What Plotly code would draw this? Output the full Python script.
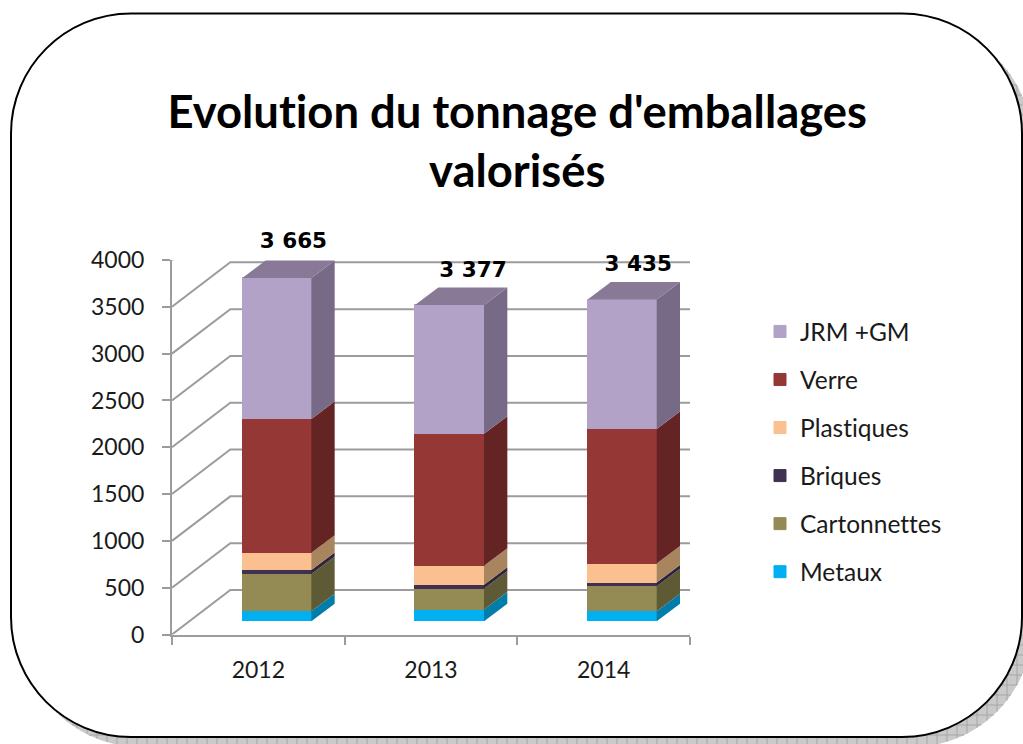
import math
import plotly.graph_objects as go

# ---------- data ----------
years = ["2012", "2013", "2014"]
metaux = [107, 125, 107]
cartonnettes = [396, 225, 267]
briques = [43, 40, 40]
plastiques = [185, 203, 203]
verre = [1430, 1408, 1436]
jrm_gm = [1504, 1376, 1382]
total_labels = ["3 665", "3 377", "3 435"]
y_ticks = [0, 500, 1000, 1500, 2000, 2500, 3000, 3500, 4000]

series_names = ["Metaux", "Cartonnettes", "Briques", "Plastiques", "Verre", "JRM +GM"]
series_values = [metaux, cartonnettes, briques, plastiques, verre, jrm_gm]
front_colors = ["#00B0F0", "#948A54", "#403152", "#FAC090", "#953735", "#B3A2C7"]
side_colors = ["#007DA9", "#5F5A36", "#2E2339", "#A8855F", "#642423", "#776A87"]
top_color = "#887A96"

# ---------- page geometry (pixels) ----------
W, H = 1023, 744
FRONT_L, FRONT_R, FRONT_B, FRONT_T = 172, 690, 634.5, 260
BAR_SHIFT_X, BAR_SHIFT_Y = 18.5, 13.3
PX_X = (FRONT_R - FRONT_L) / 3
PX_Y = (FRONT_B - FRONT_T) / 4000
WALL_DX, WALL_DY = 58.3 / PX_X, 44.5 / PX_Y
BAR_W = 0.40
DEPTH_X, DEPTH_Y = 23.3 / PX_X, 17.5 / PX_Y
Y2_MAX = 4500
GRID = "#9C9C9C"
FONT = "Lato"
LABEL_FONT = "DejaVu Sans"
label_dx = [0.096, 0.136, 0.093]
label_dy = [381, 355, 358]


def px(x):
    return x / W


def py(y):
    return 1 - y / H


def rounded(x0, y0, x1, y1, r):
    k = 0.5523 * r
    pts = [
        f"M{px(x0 + r)},{py(y0)}", f"L{px(x1 - r)},{py(y0)}",
        f"C{px(x1 - r + k)},{py(y0)} {px(x1)},{py(y0 + r - k)} {px(x1)},{py(y0 + r)}",
        f"L{px(x1)},{py(y1 - r)}",
        f"C{px(x1)},{py(y1 - r + k)} {px(x1 - r + k)},{py(y1)} {px(x1 - r)},{py(y1)}",
        f"L{px(x0 + r)},{py(y1)}",
        f"C{px(x0 + r - k)},{py(y1)} {px(x0)},{py(y1 - r + k)} {px(x0)},{py(y1 - r)}",
        f"L{px(x0)},{py(y0 + r)}",
        f"C{px(x0)},{py(y0 + r - k)} {px(x0 + r - k)},{py(y0)} {px(x0 + r)},{py(y0)}", "Z",
    ]
    return " ".join(pts)


def chord(t, a0, a1, r):
    """Extent across a rounded box at position t along the other direction."""
    off = 0.0
    if t < a0 + r:
        off = r - math.sqrt(max(r * r - (a0 + r - t) ** 2, 0))
    elif t > a1 - r:
        off = r - math.sqrt(max(r * r - (t - a1 + r) ** 2, 0))
    return off


BOX = (11, 13.5, 1022, 737)
RAD = 120
SHD = (BOX[0] + 10, BOX[1] + 10, BOX[2] + 10, BOX[3] + 10)

hatch = []
for gx in range(27, SHD[2], 10):
    o = chord(gx, SHD[0], SHD[2], RAD)
    hatch.append(f"M{px(gx)},{py(SHD[1] + o)} L{px(gx)},{py(SHD[3] - o)}")
for gy in range(35, SHD[3], 10):
    o = chord(gy, SHD[1], SHD[3], RAD)
    hatch.append(f"M{px(SHD[0] + o)},{py(gy)} L{px(SHD[2] - o)},{py(gy)}")

shapes = [
    dict(type="path", xref="paper", yref="paper", layer="below",
         path=rounded(*SHD, RAD), fillcolor="#CACACA", line=dict(width=0)),
    dict(type="path", xref="paper", yref="paper", layer="below",
         path=" ".join(hatch), line=dict(color="#A6A6A6", width=1)),
    dict(type="path", xref="paper", yref="paper", layer="below",
         path=rounded(*BOX, RAD), fillcolor="#FFFFFF", line=dict(color="#000000", width=2)),
]

fig = go.Figure()

# ---------- chart walls and floor, on the front-plane axes ----------
wx, wy = [], []
x_l, x_r = -0.5, 2.5
for v in y_ticks:
    wx += [x_l, x_l + WALL_DX, x_r + WALL_DX, None]
    wy += [v, v + WALL_DY, v + WALL_DY, None]
wx += [x_r, x_r + WALL_DX, None]
wy += [0, WALL_DY, None]
fig.add_trace(go.Scatter(x=wx, y=wy, mode="lines", line=dict(color=GRID, width=2),
                         cliponaxis=False, showlegend=False, hoverinfo="skip",
                         xaxis="x", yaxis="y"))

# ---------- stacked bars ----------
idx = [0, 1, 2]
for rank, (name, vals, col) in enumerate(zip(series_names, series_values, front_colors)):
    fig.add_trace(go.Bar(x=idx, y=vals, name=name, width=BAR_W, legendgroup=name,
                         legendrank=1000 - rank,
                         marker=dict(color=col, line=dict(color=col, width=1)),
                         xaxis="x2", yaxis="y2", cliponaxis=False))

# ---------- side and top faces of the bars ----------
cum = [0, 0, 0]
for name, vals, col in zip(series_names, series_values, side_colors):
    sx, sy = [], []
    for i in idx:
        xr = i + BAR_W / 2
        a, b = cum[i], cum[i] + vals[i]
        sx += [xr, xr + DEPTH_X, xr + DEPTH_X, xr, xr, None]
        sy += [a, a + DEPTH_Y, b + DEPTH_Y, b, a, None]
        cum[i] = b
    fig.add_trace(go.Scatter(x=sx, y=sy, mode="lines", fill="toself", fillcolor=col,
                             line=dict(width=0, color=col), cliponaxis=False,
                             showlegend=False, hoverinfo="skip", xaxis="x2", yaxis="y2"))

tx, ty = [], []
for i in idx:
    xl, xr = i - BAR_W / 2, i + BAR_W / 2
    c = cum[i]
    tx += [xl, xr, xr + DEPTH_X, xl + DEPTH_X, xl, None]
    ty += [c, c, c + DEPTH_Y, c + DEPTH_Y, c, None]
fig.add_trace(go.Scatter(x=tx, y=ty, mode="lines", fill="toself", fillcolor=top_color,
                         line=dict(width=0, color=top_color), cliponaxis=False,
                         showlegend=False, hoverinfo="skip", xaxis="x2", yaxis="y2"))

# ---------- totals ----------
fig.add_trace(go.Scatter(x=[i + d for i, d in zip(idx, label_dx)],
                         y=[c + d for c, d in zip(cum, label_dy)],
                         mode="text", text=total_labels, textposition="middle center",
                         textfont=dict(family=LABEL_FONT, size=21.5, color="#000000", weight="bold"),
                         cliponaxis=False, showlegend=False, hoverinfo="skip",
                         xaxis="x2", yaxis="y2"))

dom_x = [px(FRONT_L), px(FRONT_R)]
dom_y = [py(FRONT_B), py(FRONT_T)]
dom_x2 = [px(FRONT_L + BAR_SHIFT_X), px(FRONT_R + BAR_SHIFT_X)]
dom_y2 = [py(FRONT_B - BAR_SHIFT_Y), py(FRONT_B - BAR_SHIFT_Y - Y2_MAX * PX_Y)]

fig.update_layout(
    template="none",
    width=W, height=H, autosize=False,
    margin=dict(l=0, r=0, t=0, b=0, pad=0),
    paper_bgcolor="rgba(0,0,0,0)", plot_bgcolor="rgba(0,0,0,0)",
    barmode="stack", bargap=0,
    font=dict(family=FONT, size=23, color="#1A1A1A"),
    shapes=shapes,
    annotations=[dict(text="<b>Evolution du tonnage d'emballages<br>valorisés</b>",
                      xref="paper", yref="paper", x=px(517), y=py(139.5),
                      xanchor="center", yanchor="middle", showarrow=False,
                      font=dict(family=FONT, size=45.4, color="#000000"))],
    xaxis=dict(domain=dom_x, range=[x_l, x_r], tickvals=idx, ticktext=years,
               ticks="", showgrid=False, zeroline=False, showline=True, automargin=False,
               linecolor=GRID, linewidth=2, ticklabelstandoff=14,
               tickfont=dict(family=FONT, size=23, color="#1A1A1A"),
               minor=dict(tickvals=[-0.5, 0.5, 1.5, 2.5], ticks="outside", ticklen=8,
                          tickwidth=2, tickcolor=GRID, showgrid=False)),
    yaxis=dict(domain=dom_y, range=[0, 4000], tickvals=y_ticks, ticks="outside",
               ticklen=8, tickwidth=2, tickcolor=GRID, showgrid=False, zeroline=False,
               showline=True, linecolor=GRID, linewidth=2, ticklabelstandoff=13,
               automargin=False, tickfont=dict(family=FONT, size=23, color="#1A1A1A")),
    xaxis2=dict(domain=dom_x2, range=[x_l, x_r], anchor="y2", visible=False, automargin=False),
    yaxis2=dict(domain=dom_y2, range=[0, Y2_MAX], anchor="x2", visible=False, automargin=False),
    legend=dict(x=px(760), xanchor="left", y=py(309), yanchor="top",
                traceorder="grouped", tracegroupgap=13.2,
                bgcolor="rgba(0,0,0,0)", font=dict(family=FONT, size=24.5, color="#1A1A1A")),
)

fig.write_html("out.html", config=dict(displayModeBar=False),
               post_script="document.body.style.margin='0';document.documentElement.style.overflow='hidden';"
                           "var s=document.createElement('style');s.textContent='text{font-variant-ligatures:none !important}';document.head.appendChild(s);")
